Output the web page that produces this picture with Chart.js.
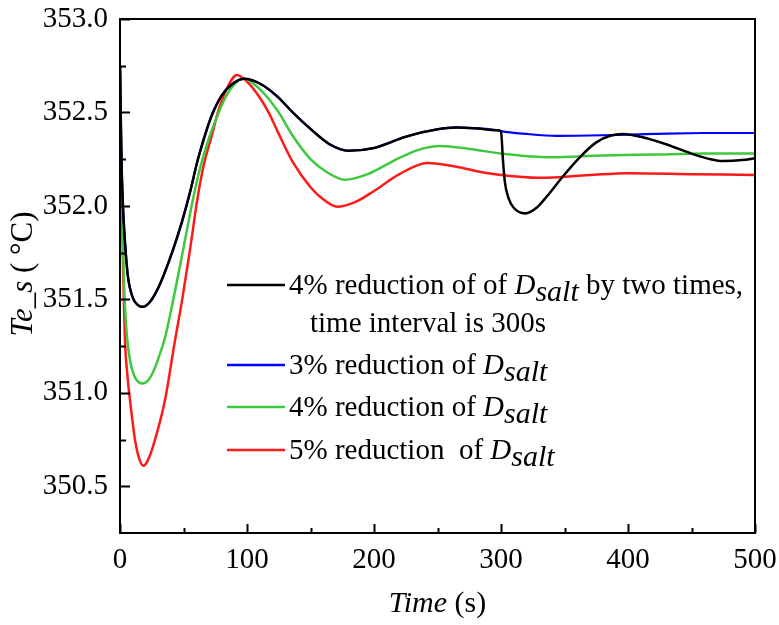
<!DOCTYPE html>
<html>
<head>
<meta charset="utf-8">
<script src="https://cdn.jsdelivr.net/npm/chart.js@4.4.1/dist/chart.umd.min.js"></script>
<style>
    html, body { margin: 0; padding: 0; background: #fff; }
    canvas { display: block; background: #fff; }
</style>
</head>
<body>
<canvas id="tempChart" width="779" height="625"></canvas>
<script>
// axis ticks
const xTicks = [0, 100, 200, 300, 400, 500];
const yTicks = [350.5, 351.0, 351.5, 352.0, 352.5, 353.0];

// 4% reduction of Dsalt by two times (interval 300 s)
const blackTime = [0, 1, 2, 4, 6.3, 10, 14, 18, 24, 30, 35, 42, 49, 55, 61, 67, 72, 80, 88, 98, 110, 124, 136, 152,
    165, 180, 200, 225, 250, 265, 280, 297, 300, 301.5, 303, 306, 310, 319, 328, 336, 349, 362, 375, 386, 396, 410,
    430, 450, 465, 475, 490, 500];
const blackTemp = [352.75, 352.3, 352.05, 351.80, 351.62, 351.51, 351.47, 351.46, 351.49, 351.56, 351.64, 351.77,
    351.92, 352.07, 352.24, 352.38, 352.48, 352.59, 352.65, 352.68, 352.655, 352.585, 352.50, 352.40,
    352.33, 352.295, 352.31, 352.37, 352.41, 352.42, 352.415, 352.405, 352.40, 352.25, 352.13, 352.04, 351.99,
    351.96, 351.99, 352.05, 352.16, 352.26, 352.34, 352.375, 352.385, 352.37, 352.33, 352.28, 352.25, 352.24,
    352.245, 352.255];

// 3% reduction of Dsalt (hidden under black before 300 s)
const blueTime = [0, 1, 2, 4, 6.3, 10, 14, 18, 24, 30, 35, 42, 49, 55, 61, 67, 72, 80, 88, 98, 110, 124, 136, 152,
    165, 180, 200, 225, 250, 265, 280, 297, 300, 320, 344, 380, 420, 460, 500];
const blueTemp = [352.75, 352.3, 352.05, 351.80, 351.62, 351.51, 351.47, 351.46, 351.49, 351.56, 351.64, 351.77,
    351.92, 352.07, 352.24, 352.38, 352.48, 352.59, 352.65, 352.68, 352.655, 352.585, 352.50, 352.40,
    352.33, 352.295, 352.31, 352.37, 352.41, 352.42, 352.415, 352.405, 352.40, 352.385, 352.375, 352.378, 352.385,
    352.39, 352.39];

// 4% reduction of Dsalt
const greenTime = [0, 1, 2, 3, 4, 5.5, 8, 12, 18, 22, 26, 30, 33, 36, 42, 49, 57, 63, 69.5, 76, 83, 90, 97, 110, 124,
    136, 150, 163, 177, 195, 215, 235, 252, 275, 300, 339, 380, 420, 460, 500];
const greenTemp = [352.75, 352.3, 351.95, 351.62, 351.45, 351.3, 351.17, 351.08, 351.05, 351.065, 351.11, 351.18,
    351.24, 351.31, 351.50, 351.74, 352.02, 352.20, 352.35, 352.47, 352.58, 352.65, 352.68, 352.625, 352.51, 352.375,
    352.25, 352.18, 352.14, 352.17, 352.24, 352.30, 352.32, 352.305, 352.28, 352.26, 352.27, 352.275, 352.28, 352.28];

// 5% reduction of Dsalt
const redTime = [0, 1, 2, 3, 3.9, 6, 7.9, 11.8, 15, 18.4, 22, 27.6, 35.4, 43.3, 49, 55, 61, 66, 72, 78, 85, 92, 100,
    110, 117, 124, 136, 150, 160, 171, 185, 200, 220, 242, 265, 285, 300, 330, 370, 400, 450, 500];
const redTemp = [352.75, 352.2, 351.8, 351.5, 351.28, 351.08, 350.96, 350.75, 350.65, 350.61, 350.64, 350.75, 350.96,
    351.28, 351.5, 351.76, 352.04, 352.22, 352.37, 352.52, 352.64, 352.70, 352.665, 352.58, 352.50, 352.40, 352.235,
    352.10, 352.035, 351.995, 352.02, 352.08, 352.17, 352.23, 352.21, 352.18, 352.165, 352.15, 352.165, 352.175,
    352.17, 352.165];

// legend text pieces: n = normal, i = italic, s = italic subscript
const legendRows = [
    { color: '#000000', parts: [['4% reduction of of ', 'n'], ['D', 'i'], ['salt', 's'], [' by two times,', 'n']] },
    { color: null, parts: [['time interval is 300s', 'n']] },
    { color: '#0000ff', parts: [['3% reduction of ', 'n'], ['D', 'i'], ['salt', 's']] },
    { color: '#3fc83f', parts: [['4% reduction of ', 'n'], ['D', 'i'], ['salt', 's']] },
    { color: '#ff1a1a', parts: [['5% reduction  of ', 'n'], ['D', 'i'], ['salt', 's']] }
];

const serif = '"Liberation Serif", "Times New Roman", serif';

function toPoints(xs, ys) {
    return xs.map((x, i) => ({ x: x, y: ys[i] }));
}

function drawParts(ctx, parts, x, baseline, size) {
    parts.forEach(p => {
        let dy = 0;
        if (p[1] === 'n') {
            ctx.font = size + 'px ' + serif;
        } else if (p[1] === 'i') {
            ctx.font = 'italic ' + size + 'px ' + serif;
        } else {
            ctx.font = 'italic ' + (size + 1) + 'px ' + serif;
            dy = 7;
        }
        ctx.fillText(p[0], x, baseline + dy);
        x += ctx.measureText(p[0]).width;
    });
    return x;
}

function partsWidth(ctx, parts, size) {
    let w = 0;
    parts.forEach(p => {
        ctx.font = (p[1] === 'n' ? '' : 'italic ') + size + 'px ' + serif;
        w += ctx.measureText(p[0]).width;
    });
    return w;
}

const framePlugin = {
    id: 'frame',
    afterDatasetsDraw(chart) {
        const ctx = chart.ctx;
        const a = chart.chartArea;
        const xs = chart.scales.x;
        const ys = chart.scales.y;

        ctx.save();
        ctx.strokeStyle = '#000';
        ctx.lineWidth = 2;
        ctx.strokeRect(a.left, a.top, a.right - a.left, a.bottom - a.top);

        // inward tick marks, major and minor
        ctx.beginPath();
        xTicks.forEach((v, i) => {
            const px = Math.round(xs.getPixelForValue(v)) + 0.5;
            ctx.moveTo(px, a.bottom);
            ctx.lineTo(px, a.bottom - 9);
            if (i < xTicks.length - 1) {
                const mx = Math.round(xs.getPixelForValue((v + xTicks[i + 1]) / 2)) + 0.5;
                ctx.moveTo(mx, a.bottom);
                ctx.lineTo(mx, a.bottom - 5);
            }
        });
        yTicks.forEach((v, i) => {
            const py = Math.round(ys.getPixelForValue(v)) + 0.5;
            ctx.moveTo(a.left, py);
            ctx.lineTo(a.left + 10, py);
            if (i < yTicks.length - 1) {
                const my = Math.round(ys.getPixelForValue((v + yTicks[i + 1]) / 2)) + 0.5;
                ctx.moveTo(a.left, my);
                ctx.lineTo(a.left + 6, my);
            }
        });
        ctx.stroke();

        // legend inside the plot
        const rowY = [285, 323, 365, 407, 450];
        ctx.fillStyle = '#000';
        ctx.textBaseline = 'alphabetic';
        ctx.textAlign = 'left';
        legendRows.forEach((row, i) => {
            if (row.color) {
                ctx.strokeStyle = row.color;
                ctx.lineWidth = 2.5;
                ctx.beginPath();
                ctx.moveTo(227, rowY[i]);
                ctx.lineTo(285, rowY[i]);
                ctx.stroke();
            }
            drawParts(ctx, row.parts, row.color ? 289 : 310, rowY[i] + 9, 29);
        });

        // axis titles
        const xTitle = [['Time', 'i'], [' (s)', 'n']];
        const xw = partsWidth(ctx, xTitle, 30);
        drawParts(ctx, xTitle, (a.left + a.right) / 2 - xw / 2, 612, 30);

        ctx.translate(32, 274);
        ctx.rotate(-Math.PI / 2);
        const yTitle = [['Te_s', 'i'], [' ( °C)', 'n']];
        const yw = partsWidth(ctx, yTitle, 31);
        drawParts(ctx, yTitle, -yw / 2, 0, 31);
        ctx.restore();
    }
};

const ctx = document.getElementById('tempChart');

new Chart(ctx, {
    type: 'line',
    data: {
        datasets: [
            { label: '4% reduction of of Dsalt by two times, time interval is 300s', data: toPoints(blackTime, blackTemp),
              borderColor: '#000000', borderWidth: 2.5 },
            { label: '3% reduction of Dsalt', data: toPoints(blueTime, blueTemp), borderColor: '#0000ff', borderWidth: 2.2 },
            { label: '4% reduction of Dsalt', data: toPoints(greenTime, greenTemp), borderColor: '#3fc83f', borderWidth: 2.5 },
            { label: '5% reduction of Dsalt', data: toPoints(redTime, redTemp), borderColor: '#ff1a1a', borderWidth: 2.5 }
        ]
    },
    options: {
        responsive: false,
        animation: false,
        datasets: {
            line: { pointRadius: 0, cubicInterpolationMode: 'monotone', fill: false }
        },
        layout: { padding: { left: 0, right: 24, top: 19, bottom: 0 } },
        plugins: {
            legend: { display: false },
            tooltip: { enabled: false }
        },
        scales: {
            x: {
                type: 'linear',
                min: 0,
                max: 500,
                afterBuildTicks: s => { s.ticks = xTicks.map(v => ({ value: v })); },
                afterFit: s => {
                    s.height = 92;
                    s.paddingLeft = 0;
                    s.paddingRight = 0;
                },
                grid: { display: false, drawTicks: false },
                border: { display: false },
                ticks: {
                    color: '#000',
                    padding: 10,
                    maxRotation: 0,
                    font: { family: serif, size: 29 }
                }
            },
            y: {
                min: 350.25,
                max: 353.0,
                afterBuildTicks: s => { s.ticks = yTicks.map(v => ({ value: v })); },
                afterFit: s => {
                    s.width = 120;
                    s.paddingTop = 0;
                    s.paddingBottom = 0;
                },
                grid: { display: false, drawTicks: false },
                border: { display: false },
                ticks: {
                    color: '#000',
                    padding: 12,
                    font: { family: serif, size: 29 },
                    callback: v => Number(v).toFixed(1)
                }
            }
        }
    },
    plugins: [framePlugin]
});
</script>
</body>
</html>
